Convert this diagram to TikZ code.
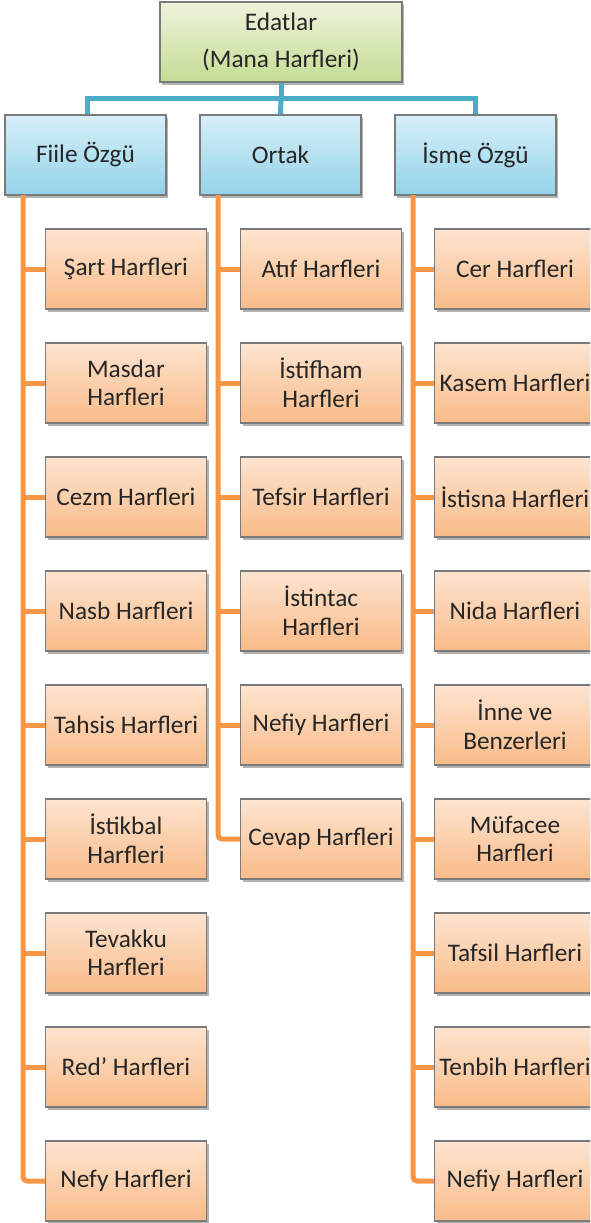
\documentclass[tikz,border=0pt]{standalone}
\usepackage{fontspec}
\setmainfont{Carlito}
\usetikzlibrary{shadows}
\definecolor{tealline}{HTML}{4BACC6}
\definecolor{orangeline}{HTML}{F79646}
\definecolor{boxborder}{HTML}{7A7A7A}
\definecolor{txt}{HTML}{262626}
\definecolor{gtop}{HTML}{EDF3DC}
\definecolor{gbot}{HTML}{C5DD94}
\definecolor{btop}{HTML}{D8EFF8}
\definecolor{bbot}{HTML}{92D3EA}
\definecolor{otop}{HTML}{FDE4D0}
\definecolor{obot}{HTML}{F9BB88}
\tikzset{
  basebox/.style={draw=boxborder, line width=1.2pt, minimum width=161pt, minimum height=80pt,
    inner sep=0pt, align=center, text=txt, font=\fontsize{25.3}{28.5}\selectfont,
    drop shadow={shadow xshift=2pt, shadow yshift=-3pt, opacity=0.3, fill=black}},
  topbox/.style={basebox, minimum width=242pt, top color=gtop, bottom color=gbot,
    font=\fontsize{25.3}{37}\selectfont},
  headbox/.style={basebox, top color=btop, bottom color=bbot},
  leafbox/.style={basebox, top color=otop, bottom color=obot},
  tealconn/.style={draw=tealline, line width=5pt},
  orangeconn/.style={draw=orangeline, line width=5pt},
}
\begin{document}
\begin{tikzpicture}[x=1pt, y=-1pt]
\useasboundingbox (0,0) rectangle (590,1223);
\clip (0,0) rectangle (590,1223);

\coordinate (bus) at (281,98);
\coordinate (t1) at (23,195);
\coordinate (t2) at (218,195);
\coordinate (t3) at (413,195);

% boxes
\node[topbox] (top) at (281,42) {Edatlar\\(Mana Harfleri)};
\node[headbox] (h1) at (85.5,155) {Fiile Özgü};
\node[headbox] (h2) at (280.5,155) {Ortak};
\node[headbox] (h3) at (475.5,155) {İsme Özgü};

% Fiile column
\node[leafbox] (a1) at (126,269) {Şart Harfleri};
\node[leafbox] (a2) at (126,383) {Masdar\\Harfleri};
\node[leafbox] (a3) at (126,497) {Cezm Harfleri};
\node[leafbox] (a4) at (126,611) {Nasb Harfleri};
\node[leafbox] (a5) at (126,725) {Tahsis Harfleri};
\node[leafbox] (a6) at (126,839) {İstikbal\\Harfleri};
\node[leafbox] (a7) at (126,953) {Tevakku\\Harfleri};
\node[leafbox] (a8) at (126,1067) {Red’ Harfleri};
\node[leafbox] (a9) at (126,1181) {Nefy Harfleri};

% Ortak column
\node[leafbox] (b1) at (321,269) {Atıf Harfleri};
\node[leafbox] (b2) at (321,383) {İstifham\\Harfleri};
\node[leafbox] (b3) at (321,497) {Tefsir Harfleri};
\node[leafbox] (b4) at (321,611) {İstintac\\Harfleri};
\node[leafbox] (b5) at (321,725) {Nefiy Harfleri};
\node[leafbox] (b6) at (321,839) {Cevap Harfleri};

% Isme column
\node[leafbox] (c1) at (515,269) {Cer Harfleri};
\node[leafbox] (c2) at (515,383) {Kasem Harfleri};
\node[leafbox] (c3) at (515,497) {İstisna Harfleri};
\node[leafbox] (c4) at (515,611) {Nida Harfleri};
\node[leafbox] (c5) at (515,725) {İnne ve\\Benzerleri};
\node[leafbox] (c6) at (515,839) {Müfacee\\Harfleri};
\node[leafbox] (c7) at (515,953) {Tafsil Harfleri};
\node[leafbox] (c8) at (515,1067) {Tenbih Harfleri};
\node[leafbox] (c9) at (515,1181) {Nefiy Harfleri};

% teal connectors
\draw[tealconn] (top.south) -- (bus);
\draw[tealconn] (h1.north -| 87,0) |- (bus) -| (h3.north);
\draw[tealconn] (bus) -- (h2.north);

% orange trunks
\draw[orangeconn, rounded corners=4pt] (t1) |- (a9.west);
\draw[orangeconn, rounded corners=4pt] (t2) |- (b6.west);
\draw[orangeconn, rounded corners=4pt] (t3) |- (c9.west);
\foreach \n in {a1,a2,a3,a4,a5,a6,a7,a8} \draw[orangeconn] (\n.west -| t1) -- (\n.west);
\foreach \n in {b1,b2,b3,b4,b5} \draw[orangeconn] (\n.west -| t2) -- (\n.west);
\foreach \n in {c1,c2,c3,c4,c5,c6,c7,c8} \draw[orangeconn] (\n.west -| t3) -- (\n.west);
\end{tikzpicture}
\end{document}
